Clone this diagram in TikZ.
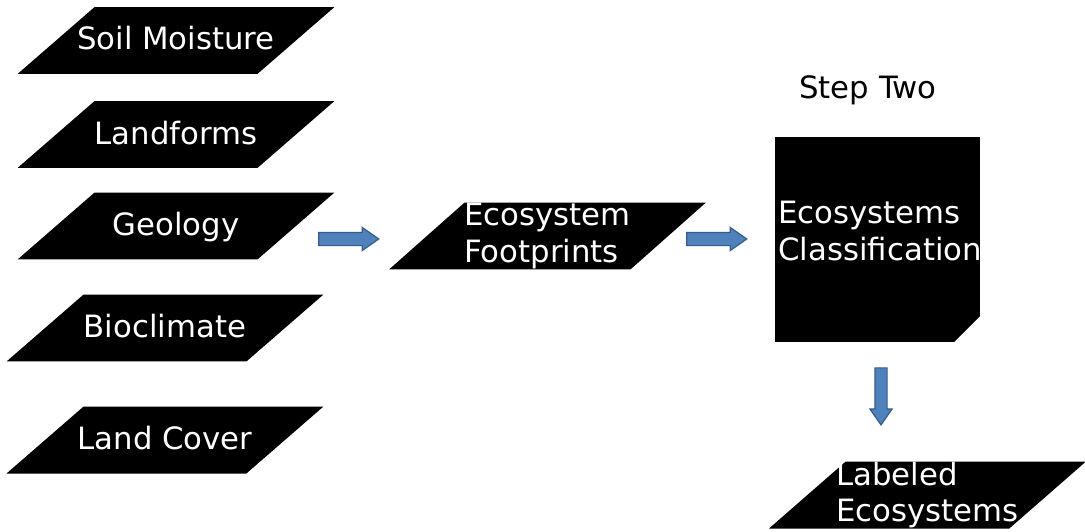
\documentclass[tikz,border=0pt]{standalone}
\usepackage{fontspec}
\setmainfont{DejaVu Sans}
\usepackage{tikz}
\usetikzlibrary{shapes.geometric,shapes.arrows,positioning}
\usepackage{xcolor}
\definecolor{arrowblue}{RGB}{79,129,189}
\definecolor{arrowedge}{RGB}{56,93,138}
\newcommand{\labelfont}{\fontsize{17.5}{21}\selectfont}
\tikzstyle{datalayer} = [trapezium, trapezium left angle=41, trapezium right angle=139, trapezium stretches body, minimum width=6.34cm, minimum height=1.34cm, inner xsep=-0.4cm, inner ysep=0pt, fill=black, text=white, font=\labelfont, align=left]
\tikzstyle{oneline} = [text height=0.86cm, text depth=0.48cm]
\tikzstyle{classbox} = [rectangle, minimum width=4.12cm, minimum height=4.1cm, inner sep=0pt, fill=black, path picture={\fill[white] ([xshift=-0.52cm]path picture bounding box.south east) -- (path picture bounding box.south east) -- ([yshift=0.52cm]path picture bounding box.south east) -- cycle;}]
\tikzstyle{blockarrow} = [single arrow, single arrow head extend=0.1cm, single arrow tip angle=70, minimum height=1.2cm, inner xsep=0pt, inner ysep=0.12cm, fill=arrowblue, draw=arrowedge, line width=0.7pt]

\begin{document}
\begin{tikzpicture}[x=0.02cm,y=-0.02cm]
\useasboundingbox (0,0) rectangle (1085,531);
% Input layers
\node (soil) [datalayer, oneline] at (176,40.5) {Soil Moisture};
\node (land) [datalayer, oneline] at (176,134.5) {Landforms};
\node (geo) [datalayer, oneline] at (176,226) {Geology};
\node (bio) [datalayer, oneline] at (165,328) {Bioclimate};
\node (cover) [datalayer, oneline] at (165,440) {Land Cover};

% Step one output
\node (foot) [datalayer] at (547.5,236) {Ecosystem\\Footprints};

% Step two
\node (class) [classbox] at (877.5,239.5) {};
\node (classtext) [anchor=west, inner sep=0pt, text=white, font=\labelfont, align=left] at ([xshift=0.08cm, yshift=0.17cm]class.west) {Ecosystems\\Classification};
\node (steptwo) [font=\labelfont, inner sep=0pt] at (868,90) {Step Two};
\node (labeled) [datalayer] at (927.5,495) {Labeled\\Ecosystems};

% Block arrows
\node (arrA) [blockarrow] at (344,239) {};
\node (arrB) [blockarrow] at (712,239) {};
\node (arrC) [blockarrow, rotate=-90, inner ysep=0.11cm, minimum height=1.14cm] at (881,392) {};
\end{tikzpicture}
\end{document}
